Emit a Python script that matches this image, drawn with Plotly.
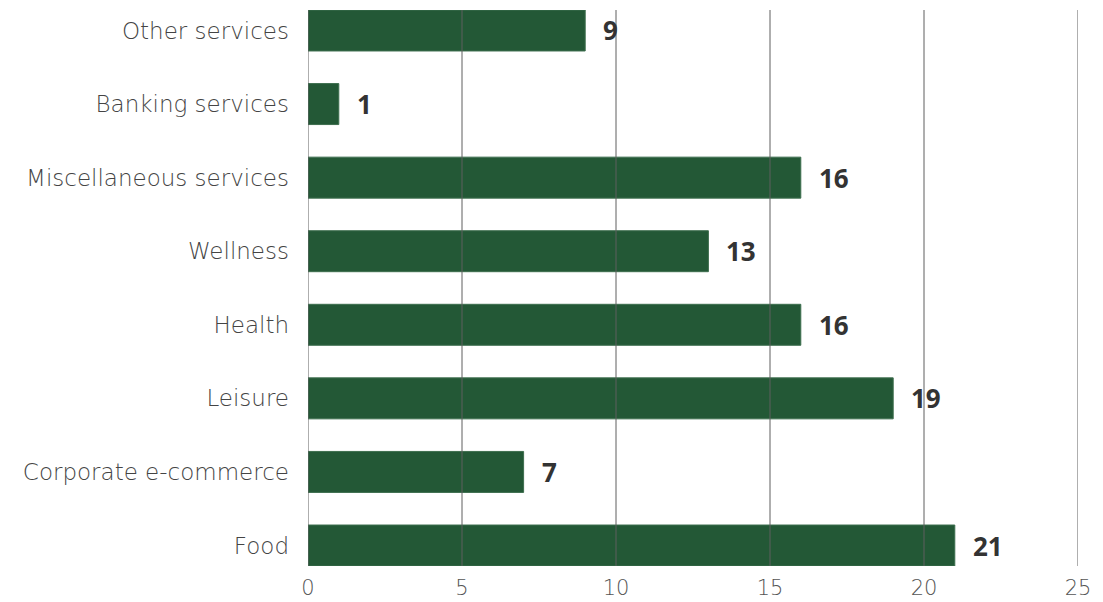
import plotly.graph_objects as go

# Categories listed top to bottom
categories = [
    "Other services",
    "Banking services",
    "Miscellaneous services",
    "Wellness",
    "Health",
    "Leisure",
    "Corporate e-commerce",
    "Food",
]
values = [9, 1, 16, 13, 16, 19, 7, 21]
x_ticks = [0, 5, 10, 15, 20, 25]

BAR_COLOR = "#235836"
GRID_COLOR = "#5e5e5e"
LABEL_COLOR = "#444444"
VALUE_COLOR = "#333333"
LABEL_FONT = "DejaVu Sans, Open Sans, sans-serif"
VALUE_FONT = "Open Sans, Lato, sans-serif"

fig = go.Figure(
    go.Bar(
        x=values,
        y=categories,
        orientation="h",
        marker=dict(color=BAR_COLOR, line=dict(color="#3d6e4e", width=1)),
        hoverinfo="skip",
    )
)

# Value labels to the right of each bar
for cat, val in zip(categories, values):
    fig.add_annotation(
        x=val,
        y=cat,
        text=f"<b>{val}</b>",
        showarrow=False,
        xanchor="left",
        yanchor="middle",
        xshift=16,
        font=dict(family=VALUE_FONT, size=26, color=VALUE_COLOR),
    )

# Vertical grid lines drawn over the bars
for t in x_ticks:
    fig.add_shape(
        type="line",
        xref="x",
        yref="paper",
        x0=t,
        x1=t,
        y0=0,
        y1=1,
        line=dict(color=GRID_COLOR, width=1),
        layer="above",
    )

n = len(categories)
half_bar = 0.2785
fig.update_layout(
    width=1103,
    height=602,
    margin=dict(l=308, r=25, t=10, b=36),
    paper_bgcolor="white",
    plot_bgcolor="white",
    bargap=0.443,
    showlegend=False,
    font=dict(family=LABEL_FONT, color=LABEL_COLOR),
    xaxis=dict(
        range=[0, 25],
        tickvals=x_ticks,
        showgrid=False,
        zeroline=False,
        showline=False,
        ticks="",
        automargin=False,
        tickfont=dict(family=LABEL_FONT, size=21, color="#555555", weight=200),
        ticklabelstandoff=7,
    ),
    yaxis=dict(
        type="category",
        categoryorder="array",
        categoryarray=categories,
        range=[n - 1 + half_bar, -half_bar],
        showgrid=False,
        zeroline=False,
        showline=False,
        ticks="",
        automargin=False,
        tickfont=dict(family=LABEL_FONT, size=23, color=LABEL_COLOR, weight=200),
        ticklabelstandoff=18,
    ),
)

fig.write_html("out.html")
